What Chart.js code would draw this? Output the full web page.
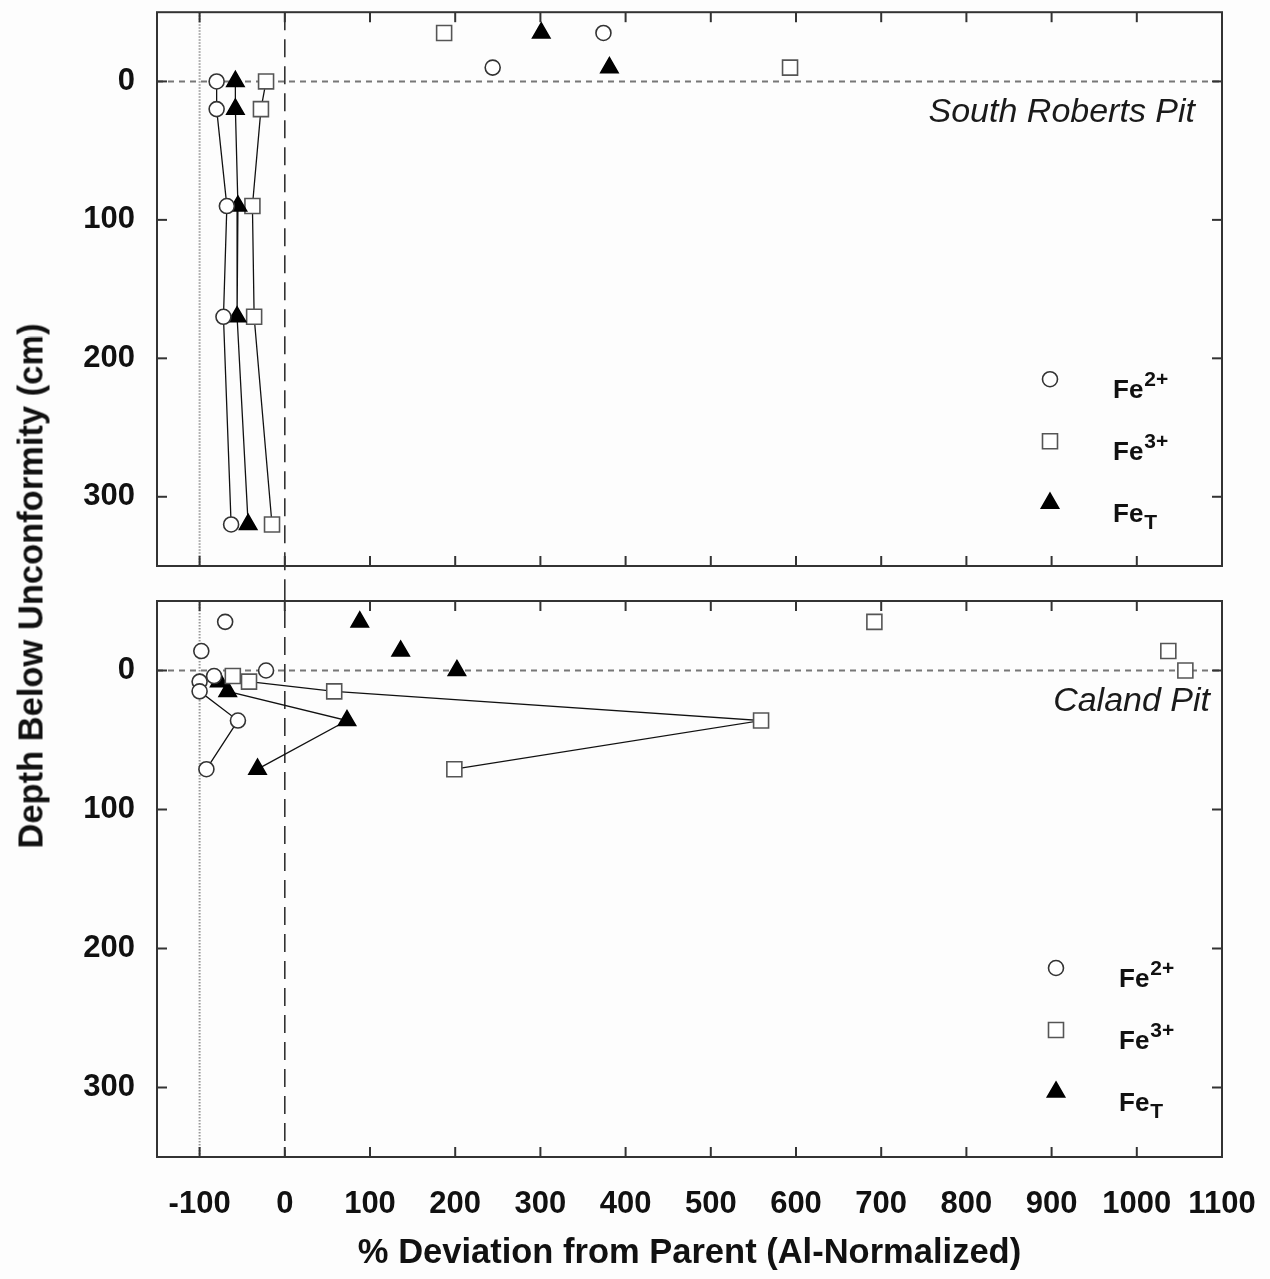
<!DOCTYPE html>
<html>
<head>
<meta charset="utf-8">
<script src="https://cdn.jsdelivr.net/npm/chart.js@4.4.0/dist/chart.umd.min.js"></script>
<style>
  body { margin: 0; background: #fdfdfd; }
  #wrap { position: relative; width: 1270px; height: 1279px; }
  #topChart { position: absolute; left: 0; top: 0; }
  #botChart { position: absolute; left: 0; top: 583px; }
  #ytitle {
    position: absolute; left: 31px; top: 586px;
    transform: translate(-50%, -50%) rotate(-90deg);
    font: bold 34.5px "Liberation Sans", Arial, sans-serif;
    white-space: nowrap; color: #111;
  }
</style>
</head>
<body>
<div id="wrap">
  <canvas id="topChart" width="1270" height="583" style="width:1270px;height:583px"></canvas>
  <canvas id="botChart" width="1270" height="696" style="width:1270px;height:696px"></canvas>
  <div id="ytitle">Depth Below Unconformity (cm)</div>
</div>
<script>
// axis ticks
const xTicks = [-100, 0, 100, 200, 300, 400, 500, 600, 700, 800, 900, 1000, 1100];
const yTicks = [0, 100, 200, 300];

// legend text (base, superscript, subscript)
const legendBase = ['Fe', 'Fe', 'Fe'];
const legendSup = ['2+', '3+', ''];
const legendSub = ['', '', 'T'];

// South Roberts Pit - profile below the unconformity (connected)
const srDepth = [0, 20, 90, 170, 320];
const srFe2 = [-80, -80, -68, -72, -63];
const srFe3 = [-22, -28, -38, -36, -15];
const srFeT = [-58, -58, -55, -56, -43];
// South Roberts Pit - samples above the unconformity
const srAboveDepth = [-35, -10];
const srAboveFe2 = [374, 244];
const srAboveFe3 = [187, 593];
const srAboveFeT = [301, 381];

// Caland Pit - profile (connected)
const calDepth = [4, 8, 15, 36, 71];
const calFe2 = [-83, -100, -100, -55, -92];
const calFe3 = [-61, -42, 58, 559, 199];
const calFeT = [null, -77, -67, 73, -32];
// Caland Pit - samples above the unconformity
const calAboveDepth = [-35, -14, 0];
const calAboveFe2 = [-70, -98, -22];
const calAboveFe3 = [692, 1037, 1057];
const calAboveFeT = [88, 136, 202];

const FONT = '"Liberation Sans", Arial, sans-serif';

const marks = [
  { style: 'circle', radius: 7.5, fill: '#fff', stroke: '#333' },
  { style: 'rect', radius: 10.6, fill: '#fff', stroke: '#555' },
  { style: 'triangle', radius: 10, fill: '#000', stroke: '#000' }
];

function points(xs, ys) {
  return xs.map((x, i) => ({ x: x, y: ys[i] })).filter(p => p.x !== null);
}

function dataset(xs, ys, m, connected) {
  return {
    data: points(xs, ys),
    showLine: connected,
    borderColor: '#111',
    borderWidth: 1.3,
    pointStyle: m.style,
    pointRadius: m.radius,
    pointHoverRadius: m.radius,
    pointBackgroundColor: m.fill,
    pointBorderColor: m.stroke,
    pointBorderWidth: 1.6
  };
}

function seg(ctx, x1, y1, x2, y2) {
  ctx.beginPath(); ctx.moveTo(x1, y1); ctx.lineTo(x2, y2); ctx.stroke();
}

function drawMark(ctx, m, x, y) {
  ctx.save();
  ctx.fillStyle = m.fill; ctx.strokeStyle = m.stroke; ctx.lineWidth = 1.6;
  ctx.beginPath();
  if (m.style === 'circle') {
    ctx.arc(x, y, m.radius, 0, Math.PI * 2);
  } else if (m.style === 'rect') {
    const s = m.radius * Math.SQRT1_2;
    ctx.rect(x - s, y - s, 2 * s, 2 * s);
  } else {
    const r = m.radius;
    ctx.moveTo(x, y - r);
    ctx.lineTo(x + r * 0.866, y + r / 2);
    ctx.lineTo(x - r * 0.866, y + r / 2);
    ctx.closePath();
  }
  ctx.fill(); ctx.stroke();
  ctx.restore();
}

function panelPlugin(opts) {
  return {
    id: 'panel',
    beforeDatasetsDraw(chart) {
      const { ctx, chartArea: a, scales: { x, y } } = chart;
      ctx.save();
      // dotted line at -100 %
      const xm = x.getPixelForValue(-100);
      ctx.strokeStyle = '#9a9a9a'; ctx.lineWidth = 2; ctx.setLineDash([1.5, 1.5]);
      seg(ctx, xm, a.top, xm, a.bottom);
      // unconformity (depth 0)
      const y0 = y.getPixelForValue(0);
      ctx.strokeStyle = '#777'; ctx.lineWidth = 2; ctx.setLineDash([6, 5]);
      seg(ctx, a.left, y0, a.right, y0);
      // zero deviation
      const x0 = x.getPixelForValue(0);
      ctx.strokeStyle = '#333'; ctx.lineWidth = 1.6; ctx.setLineDash([18, 9]);
      seg(ctx, x0, opts.zeroFromTop ? 0 : a.top, x0, opts.zeroToBottom ? chart.height : a.bottom);
      ctx.restore();
    },
    afterDraw(chart) {
      const { ctx, chartArea: a, scales: { x, y } } = chart;
      ctx.save();
      // frame
      ctx.strokeStyle = '#333'; ctx.lineWidth = 2;
      ctx.strokeRect(a.left, a.top, a.right - a.left, a.bottom - a.top);
      // inward ticks
      xTicks.forEach(v => {
        const px = x.getPixelForValue(v);
        seg(ctx, px, a.top, px, a.top + 10);
        seg(ctx, px, a.bottom, px, a.bottom - 10);
      });
      yTicks.forEach(v => {
        const py = y.getPixelForValue(v);
        seg(ctx, a.left, py, a.left + 10, py);
        seg(ctx, a.right, py, a.right - 10, py);
      });
      // site label
      ctx.fillStyle = '#1a1a1a';
      ctx.font = 'italic 34px ' + FONT;
      ctx.textAlign = 'right'; ctx.textBaseline = 'middle';
      ctx.fillText(opts.label, a.right - opts.labelInset, y.getPixelForValue(0) + 31);
      // legend
      ctx.textAlign = 'left'; ctx.textBaseline = 'alphabetic';
      marks.forEach((m, i) => {
        const mx = a.right - opts.legendInset;
        const my = a.top + 367 + 62 * i;
        drawMark(ctx, m, mx, my);
        const tx = mx + 63, ty = my + 19;
        ctx.fillStyle = '#111';
        ctx.font = 'bold 26px ' + FONT;
        ctx.fillText(legendBase[i], tx, ty);
        const w = ctx.measureText(legendBase[i]).width;
        ctx.font = 'bold 21px ' + FONT;
        if (legendSup[i]) ctx.fillText(legendSup[i], tx + w + 1, ty - 12);
        if (legendSub[i]) ctx.fillText(legendSub[i], tx + w + 1, ty + 7);
      });
      ctx.restore();
    }
  };
}

function makeChart(id, datasets, showX, padding, opts) {
  const tickFont = { family: FONT, size: 31, weight: 'bold' };
  new Chart(document.getElementById(id), {
    type: 'scatter',
    data: { datasets: datasets },
    options: {
      responsive: false,
      animation: false,
      layout: { padding: padding },
      plugins: { legend: { display: false }, tooltip: { enabled: false } },
      scales: {
        x: {
          type: 'linear', min: -150, max: 1100, display: showX,
          afterBuildTicks: s => { s.ticks = xTicks.map(v => ({ value: v })); },
          afterFit: s => {
            s.paddingLeft = 0; s.paddingRight = 0;
            if (showX) s.height = 122;
          },
          grid: { display: false, drawTicks: false },
          border: { display: false },
          ticks: {
            font: tickFont, color: '#111', padding: 29, maxRotation: 0, autoSkip: false,
            callback: v => String(v)
          },
          title: {
            display: true, text: '% Deviation from Parent (Al-Normalized)', color: '#111',
            font: { family: FONT, size: 34.5, weight: 'bold' }, padding: { top: 0, bottom: 5 }
          }
        },
        y: {
          type: 'linear', min: -50, max: 350, reverse: true,
          afterBuildTicks: s => { s.ticks = yTicks.map(v => ({ value: v })); },
          afterFit: s => { s.width = 157; s.paddingTop = 0; s.paddingBottom = 0; },
          grid: { display: false, drawTicks: false },
          border: { display: false },
          ticks: { font: tickFont, color: '#111', padding: 22, callback: v => String(v) }
        }
      }
    },
    plugins: [panelPlugin(opts)]
  });
}

makeChart('topChart', [
  dataset(srFe2, srDepth, marks[0], true),
  dataset(srFeT, srDepth, marks[2], true),
  dataset(srFe3, srDepth, marks[1], true),
  dataset(srAboveFe2, srAboveDepth, marks[0], false),
  dataset(srAboveFe3, srAboveDepth, marks[1], false),
  dataset(srAboveFeT, srAboveDepth, marks[2], false)
], false, { top: 12, bottom: 17, right: 48, left: 0 },
  { label: 'South Roberts Pit', labelInset: 27, legendInset: 172, zeroFromTop: false, zeroToBottom: true });

makeChart('botChart', [
  dataset(calFe2, calDepth, marks[0], true),
  dataset(calFe3, calDepth, marks[1], true),
  dataset(calFeT, calDepth, marks[2], true),
  dataset(calAboveFe2, calAboveDepth, marks[0], false),
  dataset(calAboveFe3, calAboveDepth, marks[1], false),
  dataset(calAboveFeT, calAboveDepth, marks[2], false)
], true, { top: 18, bottom: 0, right: 48, left: 0 },
  { label: 'Caland Pit', labelInset: 12, legendInset: 166, zeroFromTop: true, zeroToBottom: false });
</script>
</body>
</html>
